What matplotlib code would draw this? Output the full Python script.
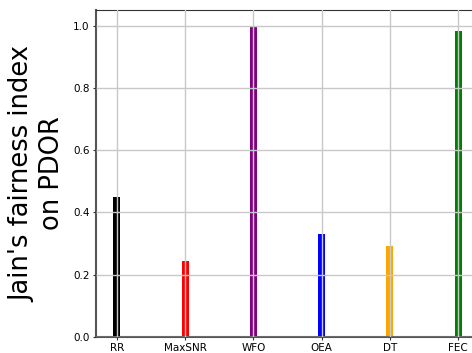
import matplotlib
matplotlib.use("Agg")
import matplotlib.pyplot as plt

schemes = ["RR", "MaxSNR", "WFO", "OEA", "DT", "FEC"]
fairness = [0.45, 0.244, 1.0, 0.33, 0.292, 0.981]
colors = ["black", "red", "purple", "blue", "orange", "green"]
yticks = [0.0, 0.2, 0.4, 0.6, 0.8, 1.0]

fig = plt.figure(figsize=(4.72, 3.53), dpi=100)
ax = fig.add_axes([96 / 472, 16 / 353, (479 - 96) / 472, 327 / 353])

x = range(len(schemes))
ax.bar(x, fairness, width=0.1, color=colors, zorder=1)

ax.set_axisbelow(False)
ax.grid(True, color="#c8c8c8", linewidth=1.0, zorder=3)

ax.set_xticks(list(x))
ax.set_xticklabels(schemes, fontsize=7.5)
ax.set_yticks(yticks)
ax.set_yticklabels([f"{v:.1f}" for v in yticks], fontsize=7.5)
ax.set_ylabel("Jain's fairness index\non PDOR", fontsize=18.5, labelpad=6)

for side in ["left", "bottom"]:
    ax.spines[side].set_color("#555555")
    ax.spines[side].set_linewidth(1.5)
ax.spines["top"].set_color("#333333")
ax.tick_params(colors="#333333", labelcolor="black", length=2.5, pad=2)

fig.savefig("out.png", dpi=100)
